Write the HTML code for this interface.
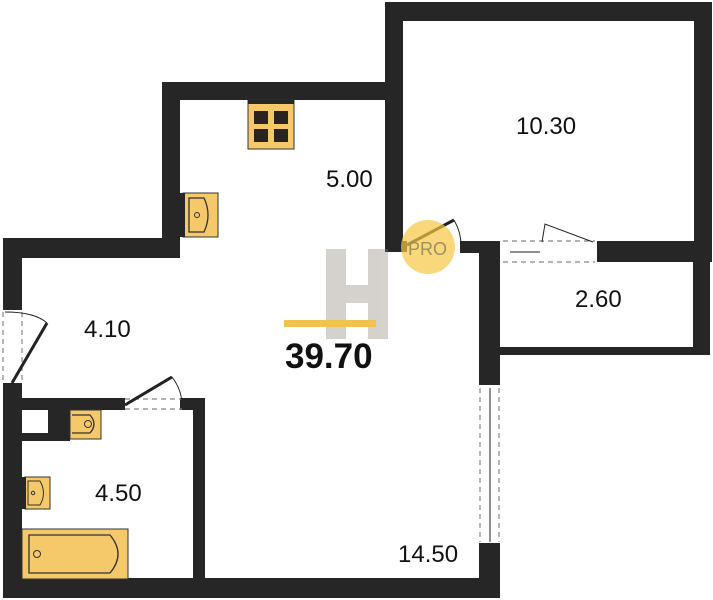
<!DOCTYPE html>
<html><head><style>
html,body{margin:0;padding:0;background:#fff;}
svg{display:block;}
text{font-family:"Liberation Sans",sans-serif;fill:#111;}
</style></head><body>
<svg width="713" height="600" viewBox="0 0 713 600" xmlns="http://www.w3.org/2000/svg">
<g fill="#262626">
<rect x="385" y="2" width="327" height="19"/>
<rect x="385" y="2" width="18" height="250"/>
<rect x="694" y="2" width="18" height="258"/>
<rect x="597" y="241" width="115" height="21"/>
<rect x="162" y="82" width="238" height="18"/>
<rect x="162" y="82" width="18" height="176"/>
<rect x="3" y="238" width="177" height="20"/>
<rect x="3" y="238" width="19" height="72"/>
<rect x="3" y="383" width="19" height="215"/>
<rect x="3" y="578" width="497" height="20"/>
<rect x="460" y="241" width="40" height="12"/>
<rect x="479" y="241" width="21" height="144"/>
<rect x="479" y="543" width="21" height="55"/>
<rect x="385" y="241" width="22" height="11"/>
<rect x="693" y="241" width="17" height="114"/>
<rect x="500" y="347" width="210" height="8"/>
<rect x="3" y="398" width="122" height="12"/>
<rect x="180" y="398" width="25" height="12"/>
<rect x="193" y="398" width="12" height="182"/>
<rect x="22" y="433" width="33" height="8"/>
<rect x="48" y="410" width="22" height="31"/>
</g>
<g stroke="#888" stroke-dasharray="5,4" fill="none" stroke-width="1.2">
<line x1="3" y1="312" x2="3" y2="382"/><line x1="22" y1="312" x2="22" y2="382"/>
<line x1="125" y1="399" x2="182" y2="399"/><line x1="125" y1="409" x2="182" y2="409"/>
<line x1="480" y1="388" x2="480" y2="542"/><line x1="499" y1="388" x2="499" y2="542"/>
<line x1="503" y1="241" x2="595" y2="241"/><line x1="503" y1="262" x2="595" y2="262"/>
</g>
<g stroke="#222" fill="none">
<line x1="12" y1="383" x2="47" y2="323" stroke-width="3"/>
<path d="M5 312 Q35 312 47 323" stroke-width="1"/>
<line x1="125" y1="405" x2="172" y2="377" stroke-width="3"/>
<path d="M172 377 Q182 390 182 405" stroke-width="1"/>
<line x1="490" y1="388" x2="490" y2="542" stroke-width="1"/>
<line x1="407" y1="245" x2="454" y2="220" stroke-width="3"/>
<path d="M454 220 Q461 232 461 245" stroke-width="1"/>
<line x1="510" y1="252" x2="540" y2="252" stroke-width="1"/>
<path d="M542 242 L545 224 L593 242" stroke-width="1"/>
</g>
<rect x="248" y="100" width="46" height="49" fill="#f5c86a" stroke="#333"/>
<rect x="248" y="100" width="46" height="4" fill="#262626"/>
<rect x="254" y="111" width="14" height="13" fill="#2a2420"/><rect x="274" y="111" width="14" height="13" fill="#2a2420"/>
<rect x="254" y="129" width="14" height="13" fill="#2a2420"/><rect x="274" y="129" width="14" height="13" fill="#2a2420"/>
<rect x="183" y="193" width="35" height="44" fill="#f5c86a" stroke="#333"/>
<rect x="180" y="193" width="5" height="44" fill="#262626"/>
<path d="M189 198 H204 Q212 215 204 232 H189 Z" fill="none" stroke="#333" stroke-width="1.3"/>
<circle cx="197" cy="215" r="2.5" fill="none" stroke="#333"/>
<rect x="70" y="410" width="31" height="29" fill="#f5c86a" stroke="#333"/>
<path d="M72 415 H90 Q98 424 90 433 H72" fill="none" stroke="#333" stroke-width="1.3"/>
<circle cx="88" cy="424" r="3.5" fill="none" stroke="#333"/>
<rect x="25" y="477" width="25" height="32" fill="#f5c86a" stroke="#333"/>
<rect x="22" y="477" width="4" height="32" fill="#262626"/>
<path d="M28 481 H40 Q47 493 40 505 H28 Z" fill="none" stroke="#333"/>
<circle cx="33" cy="493" r="1.7" fill="none" stroke="#333"/>
<rect x="22" y="529" width="106" height="50" fill="#f5c86a" stroke="#333"/>
<path d="M29 535 H110 Q126 554 110 573 H29 Z" fill="none" stroke="#333" stroke-width="1.3"/>
<circle cx="37" cy="554" r="3.5" fill="none" stroke="#333"/>
<g opacity="0.35" fill="#8a8075">
<rect x="326" y="249" width="20" height="90"/>
<rect x="368" y="249" width="20" height="90"/>
<rect x="346" y="285" width="22" height="18"/>
</g>
<rect x="284" y="320" width="92" height="7" fill="#f2c24f"/>
<circle cx="428" cy="247" r="27" fill="#f5c842" opacity="0.7"/>
<text x="408" y="255" font-size="18" style="fill:#a09060">PRO</text>
<text x="516" y="134" font-size="24">10.30</text>
<text x="326" y="187" font-size="24">5.00</text>
<text x="84" y="337" font-size="24">4.10</text>
<text x="285" y="368" font-size="35" font-weight="bold">39.70</text>
<text x="575" y="307" font-size="24">2.60</text>
<text x="95" y="501" font-size="24">4.50</text>
<text x="398" y="562" font-size="24">14.50</text>
</svg>
</body></html>
